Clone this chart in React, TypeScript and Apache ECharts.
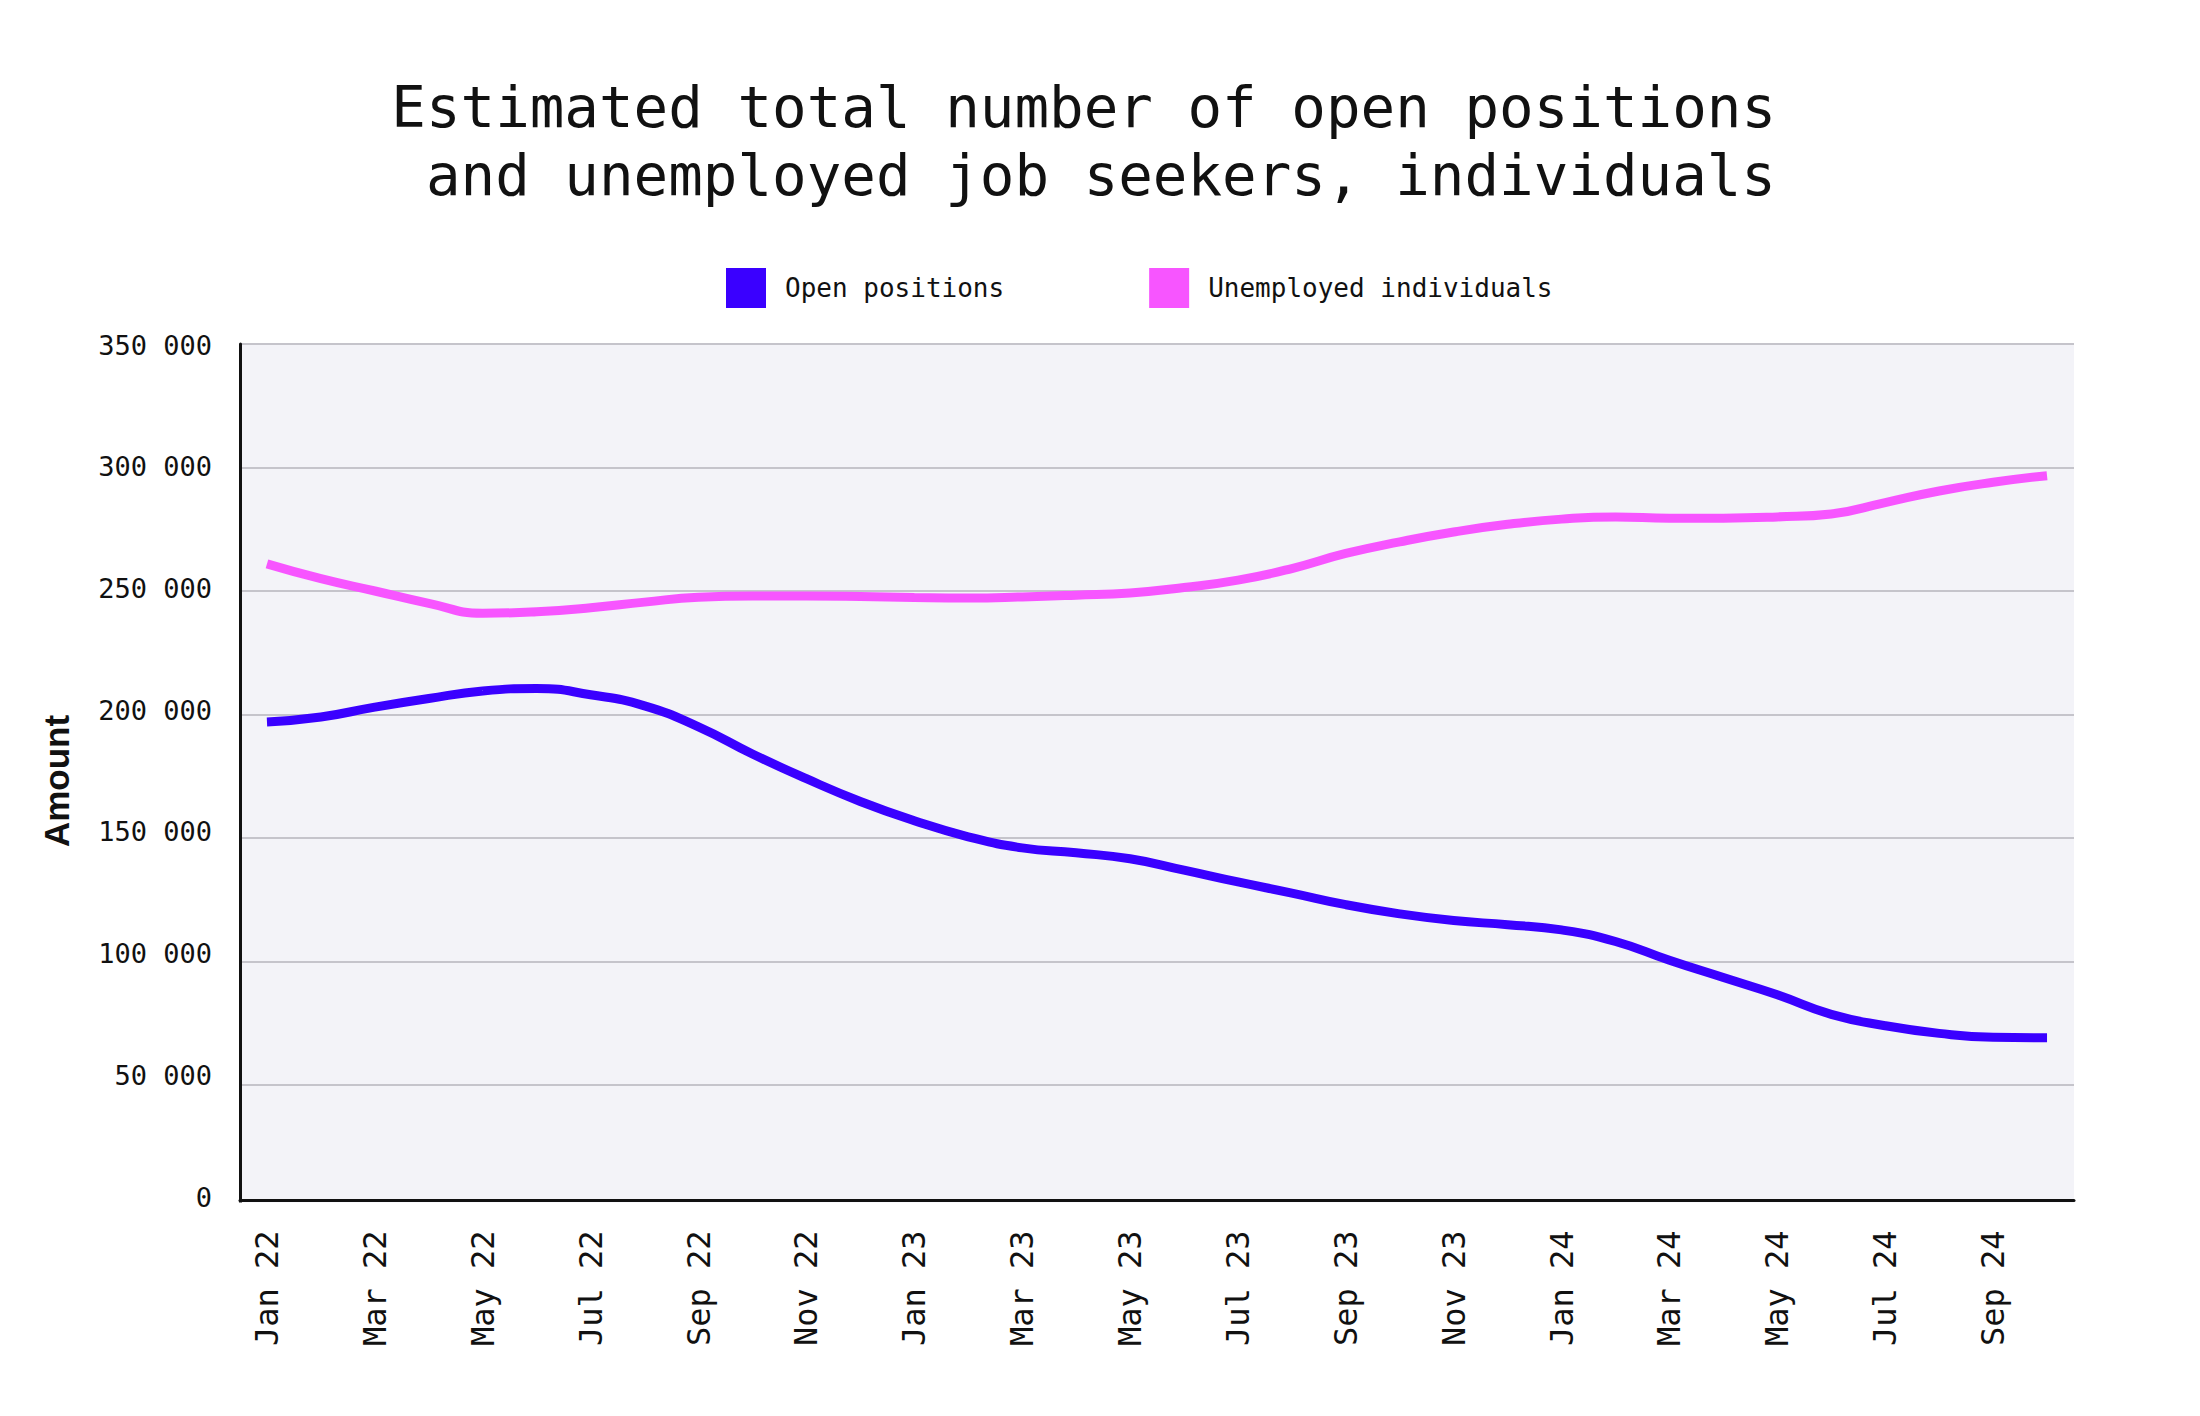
import { useEffect, useRef } from 'react';
import * as echarts from 'echarts';

const months = [
  'Jan 22', 'Feb 22', 'Mar 22', 'Apr 22', 'May 22', 'Jun 22', 'Jul 22', 'Aug 22', 'Sep 22', 'Oct 22', 'Nov 22', 'Dec 22',
  'Jan 23', 'Feb 23', 'Mar 23', 'Apr 23', 'May 23', 'Jun 23', 'Jul 23', 'Aug 23', 'Sep 23', 'Oct 23', 'Nov 23', 'Dec 23',
  'Jan 24', 'Feb 24', 'Mar 24', 'Apr 24', 'May 24', 'Jun 24', 'Jul 24', 'Aug 24', 'Sep 24', 'Oct 24',
];

const openPositions = [
  197000, 199000, 203000, 206500, 209500, 210500, 208000, 203500, 195000, 184000, 174000, 164800,
  157000, 150500, 146000, 144000, 141600, 137000, 132200, 127700, 123000, 119300, 116600, 114900,
  112800, 108100, 100500, 93500, 86500, 78600, 74000, 70900, 69300, 69100,
];

const unemployed = [
  261000, 255000, 250000, 245000, 241000, 241600, 243200, 245500, 247500, 248000, 248000, 247800,
  247400, 247200, 247600, 248300, 249200, 251400, 254400, 259100, 265200, 269900, 273900, 277000,
  279100, 280000, 279500, 279500, 280000, 281200, 285800, 290500, 294000, 296700,
];

const seriesNames = ['Open positions', 'Unemployed individuals'];
const seriesColors = ['#3a00ff', '#f755ff'];

const TITLE = 'Estimated total number of open positions\nand unemployed job seekers, individuals';
const Y_NAME = 'Amount';

const MONO = '"DejaVu Sans Mono", "Liberation Mono", monospace';

function fmt(v: number) {
  if (v === 0) return '0';
  return String(v).replace(/\B(?=(\d{3})+(?!\d))/g, ' ');
}

export default function App() {
  const ref = useRef<HTMLDivElement>(null);
  useEffect(() => {
    document.body.style.margin = '0';
    const chart = echarts.init(ref.current!, null, { renderer: 'svg' });
    chart.setOption({
      animation: false,
      backgroundColor: '#ffffff',
      graphic: [
        {
          type: 'text',
          x: 1776,
          y: 73,
          style: {
            text: TITLE,
            textAlign: 'right',
            textVerticalAlign: 'top',
            font: `normal 57.5px ${MONO}`,
            lineHeight: 68,
            fill: '#111',
          },
        },
        {
          type: 'text',
          x: 56,
          y: 781,
          rotation: Math.PI / 2,
          style: {
            text: Y_NAME,
            textAlign: 'center',
            textVerticalAlign: 'middle',
            font: 'bold 35px "Liberation Sans", Arial, sans-serif',
            fill: '#111',
          },
        },
        {
          type: 'rect',
          z: 100,
          shape: { x: 236, y: 1202.5, width: 1842, height: 10 },
          style: { fill: '#ffffff' },
        },
      ],
      legend: {
        left: 721,
        top: 263,
        itemWidth: 40,
        itemHeight: 40,
        itemGap: 145,
        icon: 'rect',
        textStyle: { fontFamily: MONO, fontSize: 26, color: '#111', padding: [0, 0, 0, 14] },
        data: seriesNames,
      },
      grid: [
        {
          left: 240,
          right: 126,
          top: 344,
          bottom: 207.5,
          show: true,
          backgroundColor: '#f3f3f8',
          borderWidth: 0,
        },
        {
          left: 240,
          right: 126,
          top: 345,
          bottom: 219,
          show: false,
        },
      ],
      xAxis: [
        {
          type: 'category',
          gridIndex: 0,
          data: months,
          boundaryGap: true,
          offset: -8,
          axisLine: { lineStyle: { color: '#111', width: 3 } },
          axisTick: { show: false },
          axisLabel: {
            interval: 1,
            rotate: 90,
            margin: 30,
            fontFamily: MONO,
            fontSize: 32,
            color: '#111',
          },
          splitLine: { show: false },
        },
        {
          type: 'category',
          gridIndex: 1,
          data: months,
          show: false,
        },
      ],
      yAxis: [
        {
          type: 'value',
          gridIndex: 0,
          min: 0,
          max: 350000,
          interval: 50000,
          axisLine: { show: true, lineStyle: { color: '#111', width: 3 } },
          axisTick: { show: false },
          axisLabel: { show: false },
          splitLine: { lineStyle: { color: '#c5c4cb', width: 2 } },
        },
        {
          type: 'value',
          gridIndex: 1,
          min: 0,
          max: 350000,
          interval: 50000,
          axisLine: { show: false },
          axisTick: { show: false },
          splitLine: { show: false },
          axisLabel: {
            fontFamily: MONO,
            fontSize: 27,
            color: '#111',
            margin: 28,
            formatter: (v: number) => fmt(v),
          },
        },
      ],
      series: [
        {
          name: seriesNames[0],
          type: 'line',
          xAxisIndex: 0,
          yAxisIndex: 0,
          data: openPositions,
          smooth: 0.5,
          showSymbol: false,
          symbol: 'none',
          color: seriesColors[0],
          itemStyle: { color: seriesColors[0] },
          lineStyle: { color: seriesColors[0], width: 9 },
        },
        {
          name: seriesNames[1],
          type: 'line',
          xAxisIndex: 0,
          yAxisIndex: 0,
          data: unemployed,
          smooth: 0.5,
          showSymbol: false,
          symbol: 'none',
          color: seriesColors[1],
          itemStyle: { color: seriesColors[1] },
          lineStyle: { color: seriesColors[1], width: 9 },
        },
      ],
    });
    return () => chart.dispose();
  }, []);
  return <div ref={ref} style={{ width: 2200, height: 1416 }} />;
}
